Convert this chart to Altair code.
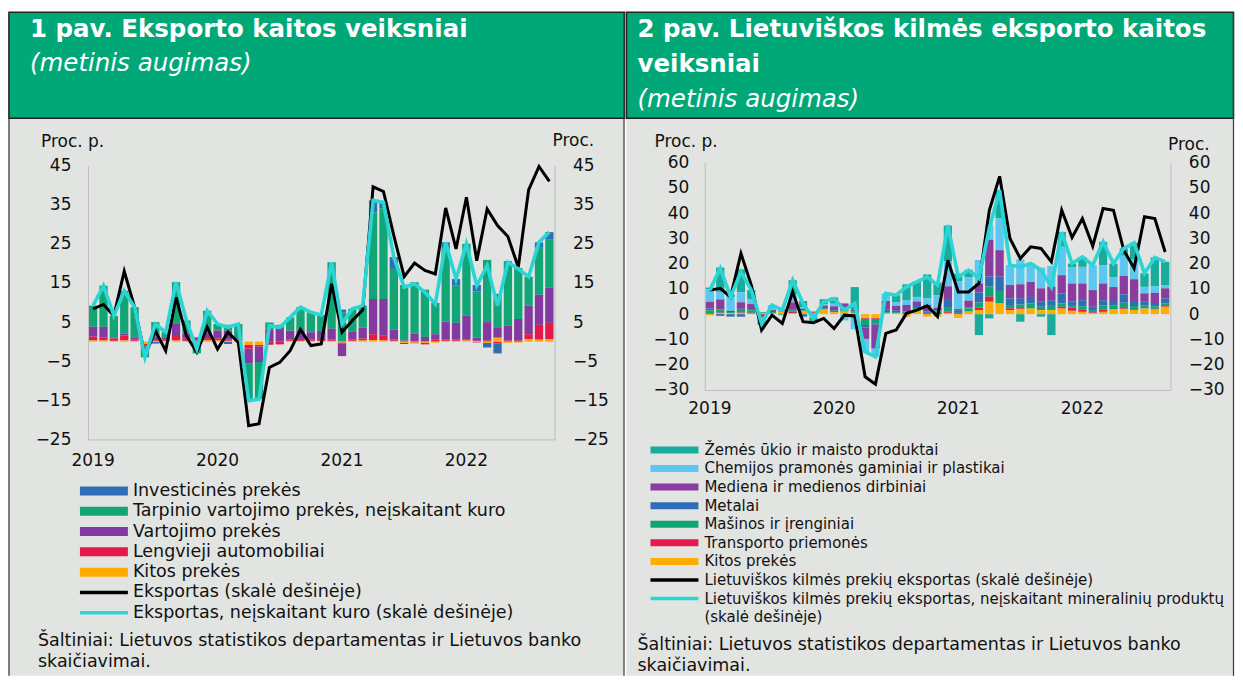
import altair as alt
import pandas as pd

# ---------------------------------------------------------------- categories
MONTHS = [f"{y}-{m:02d}" for y in (2019, 2020, 2021, 2022) for m in range(1, 13)][:45]
YEAR_TICKS = ["2019-01", "2020-01", "2021-01", "2022-01"]

FONT = "DejaVu Sans"
BG = "#E1E4E1"
HEADER_GREEN = "#00A878"
AXIS_GREY = "#BDBDBD"
BORDER = "#3A3A3A"
TEXT = "#111111"

SOURCE_LINES = ["Šaltiniai: Lietuvos statistikos departamentas ir Lietuvos banko",
                "skaičiavimai."]

# ---------------------------------------------------------------- panel 1
P1_TITLE_LINES = ["1 pav. Eksporto kaitos veiksniai"]
P1_SUBTITLE = "(metinis augimas)"
P1_UNIT_LEFT = "Proc. p."
P1_UNIT_RIGHT = "Proc."
P1_Y_TICKS = [-25, -15, -5, 5, 15, 25, 35, 45]
P1_BAR_NAMES = ["Investicinės prekės",
                "Tarpinio vartojimo prekės, neįskaitant kuro",
                "Vartojimo prekės",
                "Lengvieji automobiliai",
                "Kitos prekės"]
P1_BAR_COLORS = ["#2F6EB5", "#12A677", "#8339A0", "#E4184B", "#FFAB00"]
P1_LINE_NAMES = ["Eksportas (skalė dešinėje)",
                 "Eksportas, neįskaitant kuro (skalė dešinėje)"]
P1_LINE_COLORS = ["#000000", "#2CD5D5"]

P1_INVEST = [0, 0, 0, 0, 0, 0, -0.5, 0, 0, 0, 0, 0, 0, -0.6, 0, 0, 0, 0, 0, 0, 0, 0, 0, 0,
             0.8, 0, 0.4, 3.0, 1.5, 3.0, 0, 0, 0, 0, 1.5, 1.7, 0, 1.7, -1.2, -2.5, 0, 0, 0, 1.4, 1.8]
P1_TARP = [5.4, 10.5, 5.5, 10.9, 7.7, -2.7, 3.7, 1.3, 10.5, 3.4, -2.8, 5.5, 1.7, 1.5, 3.7,
           -9.6, -9.5, 1.9, 0.8, 3.4, 5.9, 5.1, 4.1, 17.0, 7.4, 5.9, 5.2, 22.2, 23.2, 15.5,
           14.2, 13.1, 12.1, 8.0, 18.8, 9.5, 18.4, 11.8, 15.9, 8.7, 16.5, 13.0, 7.4, 12.0, 12.4]
P1_VART = [2.5, 2.7, 0.3, 0.5, 0.5, -0.4, 0.6, 0.5, 3.0, 1.2, 0.8, 1.5, 2.0, 2.2, 0.3,
           -3.7, -4.0, 3.0, 3.5, 2.2, 2.2, 1.8, 2.0, 2.8, -3.2, 2.0, 2.8, 9.0, 9.4, 2.5,
           0.3, 2.1, 1.2, 1.4, 4.5, 4.3, 6.0, 0.8, 4.7, 2.5, 3.8, 5.5, 7.3, 7.7, 9.0]
P1_LENGV = [1.0, 0.8, 0.6, 1.3, 0.4, -0.3, 0.5, 0.4, 1.4, 0.6, 0.3, 0.6, 0.5, 0.4, 0.2,
            -1.0, -0.4, -0.8, -0.7, 0.4, 0.5, 0.4, 0.5, 0.3, -0.3, 0.3, 0.5, 1.5, 1.2, 0.4,
            -0.3, -0.2, -0.4, 0.5, 0.4, 0.3, 0.3, -0.2, 0.3, -0.5, 0.3, 0.3, 1.3, 3.8, 4.2]
P1_KITOS = [0.3, 0.3, 0.2, 0.3, 0.2, -0.6, 0.2, 0.2, 0.3, 0.2, -0.2, 0.3, 0.3, 0.2, 0.3,
            -0.8, -0.8, 0.0, 0.0, 0.2, 0.2, 0.2, 0.2, 0.2, -0.2, 0.2, 0.3, 0.4, 0.3, 0.2,
            -0.3, -0.2, -0.3, -0.3, 0.2, 0.2, 0.3, 0.2, -0.3, 1.0, -0.3, -0.2, 0.6, 0.5, 0.6]
P1_EXPORT = [8.4, 9.5, 6.6, 18.0, 8.8, -3.6, 2.8, -2.3, 11.3, 1.5, -2.7, 3.7, -1.9, 2.4, -0.2,
             -21.5, -21.0, -6.6, -5.3, -2.3, 3.1, -1.0, -0.6, 14.8, 2.4, 5.4, 8.1, 39.6, 38.4, 27.1,
             16.6, 20.1, 18.2, 17.3, 34.2, 23.7, 36.9, 20.7, 33.9, 29.7, 26.9, 19.0, 38.8, 44.8, 41.0]
P1_EXPORT_EXFUEL = [9.2, 14.3, 6.6, 13.0, 8.8, -4.0, 4.5, 2.4, 15.2, 5.4, -1.9, 7.9, 4.5, 3.7, 4.5,
                    -15.1, -14.7, 4.1, 3.6, 6.2, 8.8, 7.5, 6.8, 20.3, 4.5, 8.4, 9.2, 36.1, 35.6, 21.6,
                    13.9, 14.8, 12.6, 9.6, 25.4, 16.0, 25.0, 14.3, 19.4, 9.2, 20.3, 18.6, 16.6, 25.4, 28.0]

# ---------------------------------------------------------------- panel 2
P2_TITLE_LINES = ["2 pav. Lietuviškos kilmės eksporto kaitos", "veiksniai"]
P2_SUBTITLE = "(metinis augimas)"
P2_UNIT_LEFT = "Proc. p."
P2_UNIT_RIGHT = "Proc."
P2_Y_TICKS = [-30, -20, -10, 0, 10, 20, 30, 40, 50, 60]
P2_BAR_NAMES = ["Žemės ūkio ir maisto produktai",
                "Chemijos pramonės gaminiai ir plastikai",
                "Mediena ir medienos dirbiniai",
                "Metalai",
                "Mašinos ir įrenginiai",
                "Transporto priemonės",
                "Kitos prekės"]
P2_BAR_COLORS = ["#19AB9C", "#5CC8F2", "#8A3D9E", "#2F6DB5", "#0FA572", "#E31B4F", "#FFAD00"]
P2_LINE_NAMES = ["Lietuviškos kilmės prekių eksportas (skalė dešinėje)",
                 "Lietuviškos kilmės prekių eksportas, neįskaitant mineralinių produktų (skalė dešinėje)"]
P2_LINE_LEGEND_ROWS = ["Lietuviškos kilmės prekių eksportas (skalė dešinėje)",
                       "Lietuviškos kilmės prekių eksportas, neįskaitant mineralinių produktų",
                       "(skalė dešinėje)"]
P2_LINE_COLORS = ["#000000", "#2CD5D5"]

P2_ZEMES = [0.6, 9.6, 1.0, 9.0, 3.5, -2.0, 0, -0.4, 5.5, 2.5, -1.4, 2.0, 2.5, 0.3, 9.0,
            -0.3, 0, 0, 2.7, 6.2, 6.0, 9.5, 5.0, 14.0, 3.0, 3.0, -8.3, -1.7, 11.1, 0,
            -3.0, 0, -1.0, -8.3, 5.8, 1.4, 3.9, 0, 9.2, 5.3, 2.9, 6.4, 5.3, 11.4, 9.2]
P2_CHEM = [5.0, 3.0, 5.5, 4.0, 2.0, -1.0, 2.0, 0.5, 3.3, 0.5, -0.8, 0.5, 1.0, -2.5, -5.5,
           -5.0, -3.3, 3.0, 1.5, 2.0, 1.8, 2.6, 5.0, 10.0, 11.0, 9.2, 9.3, 6.0, 12.6, 7.9,
           9.9, 7.3, 8.2, 8.3, 11.3, 6.5, 6.6, 9.9, 7.3, 4.0, 8.0, 8.0, 2.6, 2.6, 1.3]
P2_MEDIENA = [2.7, 4.0, 0.5, 2.6, 2.0, -0.5, 0.8, 0.5, 2.6, 0.7, 0.5, 1.0, 1.5, 1.5, 0.5,
              -4.5, -9.5, 3.5, 2.0, 2.6, 1.8, 2.6, 1.0, 5.0, 0.5, 2.7, 3.5, 14.5, 10.5, 5.3,
              5.5, 5.9, 5.3, 5.3, 7.2, 7.2, 6.6, 6.6, 6.6, 5.9, 7.3, 8.6, 3.3, 4.0, 4.0]
P2_METALAI = [0.7, -0.7, -1.0, -1.0, 0.5, -0.5, 0, 0, 0.3, -1.0, -0.5, 0.3, 0.3, 1.0, 0.2,
              -1.0, -0.5, 1.0, 0.5, 0.5, 0.8, 0.5, 0.5, 3.5, 1.0, 0.3, 4.0, 4.0, 6.0, 2.6,
              2.5, 2.6, 2.0, 1.9, 4.0, 1.3, 2.4, 1.3, 2.0, 1.3, 3.3, 2.0, 1.4, 1.3, 2.0]
P2_MASINOS = [1.2, 1.2, 0.5, 1.5, 1.0, 0.3, 0.5, 0, 0.7, 0.3, 0, 0.3, 0.5, 0.5, 0.5,
              -2.5, -1.7, 0.5, 0.5, 0.5, 1.0, 0.5, 1.0, 1.5, 0.5, 1.3, 2.0, 4.0, 4.6, 1.3,
              1.5, 2.0, 1.3, 2.0, 1.3, 1.0, 1.3, 0.9, 1.7, 1.7, 2.2, 1.3, 1.3, 1.0, 1.0]
P2_TRANSP = [0.3, 0.3, 0, 0.3, 0.3, -0.3, 0, 0, 0.7, 0, 0, 0, 0, 0, -0.5,
             -0.3, -0.3, 0, 0, 0, 0, 0, 0, 0.5, 0, 0, 1.0, 2.0, 0, 0.7,
             0.3, 0, 0, 0, 0.7, 1.3, 0.9, 0.4, 0.9, 0, 0.3, 0.3, 0, 0.3, 0.3]
P2_KITOS = [-0.5, 0.3, 0.3, 0.3, 0.2, 0.5, 0.3, 1.0, 0.3, 1.2, 0.5, 1.8, 0.8, 1.0, 0.5,
            -1.5, -1.6, 0.2, 0.3, -1.0, 1.4, -1.0, -1.0, 0.5, -1.5, 1.0, 1.6, 4.9, 4.2, 1.6,
            2.0, 2.2, 1.6, 1.6, 2.2, 1.3, 0.9, 0.3, 0.9, 1.8, 2.0, 1.6, 2.2, 1.8, 2.9]
P2_EXPORT = [9.5, 10.2, 6.8, 24.0, 11.5, -6.3, -0.4, -3.7, 8.8, -3.0, -3.4, -1.7, -5.7, -0.4, -0.7,
             -24.8, -27.7, -7.6, -6.3, 0.3, 1.6, 3.3, -1.0, 21.3, 8.8, 8.8, 12.1, 41.0, 54.5, 29.9,
             22.0, 26.6, 26.0, 20.7, 41.1, 30.3, 37.8, 26.9, 41.8, 41.1, 25.3, 18.1, 38.5, 37.8, 24.6]
P2_EXPORT_EXMIN = [9.5, 18.1, 6.8, 16.7, 9.5, -3.7, 3.6, 1.6, 13.4, 4.2, -1.7, 4.9, 6.2, 1.6, 4.2,
                   -14.9, -16.9, 8.2, 7.5, 10.8, 12.8, 14.7, 11.5, 35.2, 14.7, 17.4, 14.1, 33.9, 49.0, 19.4,
                   18.7, 20.0, 17.4, 10.8, 32.5, 20.0, 22.6, 19.4, 28.6, 20.0, 26.0, 28.2, 16.1, 22.4, 20.7]

ONE = pd.DataFrame({"k": [0]})
H = 668


def text_mark(s, x, y, size, weight="normal", style="normal", color=TEXT, align="left"):
    return alt.Chart(ONE).mark_text(
        text=s, align=align, baseline="middle", fontSize=size, font=FONT,
        fontWeight=weight, fontStyle=style, color=color,
    ).encode(x=alt.value(x), y=alt.value(y))


def vline(x):
    return alt.Chart(ONE).mark_rule(color=BORDER, strokeWidth=1.2).encode(
        x=alt.value(x), y=alt.value(4), y2=alt.value(H))


def make_panel(c):
    W = c["W"]
    nb = len(c["bar_names"])
    rows = []
    for k, (name, vals) in enumerate(zip(c["bar_names"], c["bar_values"])):
        for m, v in zip(MONTHS, vals):
            rows.append({"m": m, "series": name, "value": v, "stackpos": nb - 1 - k})
    bars_df = pd.DataFrame(rows)
    rows = []
    for name, vals in zip(c["line_names"], c["line_values"]):
        for m, v in zip(MONTHS, vals):
            rows.append({"m": m, "series": name, "value": v})
    lines_df = pd.DataFrame(rows)

    x0, x1 = c["x_range"]
    ytop, ybot = c["y_range"]
    xscale = alt.Scale(domain=MONTHS, range=[x0, x1], paddingInner=0.2, paddingOuter=0.1)
    yscale = alt.Scale(domain=c["y_domain"], range=[ybot, ytop], nice=False, zero=False)
    xaxis = alt.Axis(orient="bottom", offset=-(H - ybot), values=YEAR_TICKS,
                     labelExpr="substring(datum.value, 0, 4)", title=None, ticks=False,
                     tickSize=0, labelPadding=c["xlab_pad"], labelAngle=0, domainColor=AXIS_GREY,
                     labelFontSize=17, labelFont=FONT, labelColor=TEXT, grid=False)

    bars = alt.Chart(bars_df).mark_bar().encode(
        x=alt.X("m:O", scale=xscale, axis=xaxis),
        y=alt.Y("value:Q", stack="zero", scale=yscale,
                axis=alt.Axis(orient="left", offset=-x0, values=c["y_ticks"], title=None,
                              ticks=False, tickSize=0, grid=False, labelPadding=c["ylab_pad_l"],
                              domainColor=AXIS_GREY, labelFontSize=17, labelFont=FONT,
                              labelColor=TEXT)),
        fill=alt.Fill("series:N", scale=alt.Scale(domain=c["bar_names"], range=c["bar_colors"]),
                      legend=None),
        order=alt.Order("stackpos:Q", sort="ascending"),
    )
    lines = alt.Chart(lines_df).mark_line(strokeJoin="miter").encode(
        x=alt.X("m:O", scale=xscale, axis=xaxis),
        y=alt.Y("value:Q", scale=yscale,
                axis=alt.Axis(orient="right", offset=-(W - x1), values=c["y_ticks"], title=None,
                              ticks=False, tickSize=0, grid=False, labelPadding=c["ylab_pad_r"],
                              domainColor=AXIS_GREY, labelFontSize=17, labelFont=FONT,
                              labelColor=TEXT)),
        stroke=alt.Stroke("series:N", scale=alt.Scale(domain=c["line_names"], range=c["line_colors"]),
                          legend=None),
        strokeWidth=alt.StrokeWidth("series:N", scale=alt.Scale(domain=c["line_names"], range=[3, 3.6]),
                                    legend=None),
    )

    # header
    strip = alt.Chart(ONE).mark_rect(color="white").encode(
        x=alt.value(0), x2=alt.value(W), y=alt.value(0), y2=alt.value(4))
    header = alt.Chart(ONE).mark_rect(fill=HEADER_GREEN, stroke="#222222", strokeWidth=1.5).encode(
        x=alt.value(c["hdr_x"][0]), x2=alt.value(c["hdr_x"][1]), y=alt.value(4), y2=alt.value(110))
    titles = [text_mark(t, c["title_x"], y, 24.5, weight="bold", color="white")
              for t, y in zip(c["title_lines"], c["title_ys"])]
    subtitle = text_mark(c["subtitle"], c["title_x"], c["subtitle_y"], 24.5, style="italic",
                         color="white")
    unit_l = text_mark(c["unit_left"], c["unit_left_pos"][0], c["unit_left_pos"][1], 17)
    unit_r = text_mark(c["unit_right"], c["unit_right_pos"][0], c["unit_right_pos"][1], 17)
    borders = [vline(x) for x in c["border_x"]]

    # legend
    text_rows = c["bar_names"] + c["line_legend_rows"]
    nrows = len(text_rows)
    lscale = alt.Scale(domain=[0, nrows - 1], range=list(c["legend_y"]))
    sx0, sx1 = c["swatch_x"]
    leg_bar_df = pd.DataFrame({"label": c["bar_names"], "row": list(range(nb))})
    leg_line_df = pd.DataFrame({"label": c["line_names"],
                                "row": list(range(nb, nb + len(c["line_names"])))})
    leg_text_df = pd.DataFrame({"label": text_rows, "row": list(range(nrows))})
    sw_bars = alt.Chart(leg_bar_df).mark_rule(strokeWidth=c["swatch_h"], strokeCap="butt").encode(
        x=alt.value(sx0), x2=alt.value(sx1),
        y=alt.Y("row:Q", scale=lscale, axis=None),
        color=alt.Color("label:N", scale=alt.Scale(domain=c["bar_names"], range=c["bar_colors"]),
                        legend=None),
    )
    sw_lines = alt.Chart(leg_line_df).mark_rule(strokeWidth=3.5, strokeCap="butt").encode(
        x=alt.value(sx0), x2=alt.value(sx1),
        y=alt.Y("row:Q", scale=lscale, axis=None),
        stroke=alt.Stroke("label:N", scale=alt.Scale(domain=c["line_names"], range=c["line_colors"]),
                          legend=None),
    )
    leg_text = alt.Chart(leg_text_df).mark_text(
        align="left", baseline="middle", fontSize=c["legend_font"], font=FONT, color=TEXT,
    ).encode(x=alt.value(c["legend_text_x"]), y=alt.Y("row:Q", scale=lscale, axis=None),
             text="label:N")

    src_df = pd.DataFrame({"t": SOURCE_LINES, "r": [0, 1]})
    source = alt.Chart(src_df).mark_text(
        align="left", baseline="middle", fontSize=17.5, font=FONT, color=TEXT,
    ).encode(x=alt.value(c["source_x"]),
             y=alt.Y("r:Q", scale=alt.Scale(domain=[0, 1], range=list(c["source_y"])), axis=None),
             text="t:N")

    return alt.layer(strip, header, *borders, *titles, subtitle, unit_l, unit_r, bars, lines,
                     sw_bars, sw_lines, leg_text, source).resolve_scale(
        y="independent").properties(width=W, height=H)


left = make_panel(dict(
    W=617, bar_names=P1_BAR_NAMES, bar_colors=P1_BAR_COLORS,
    bar_values=[P1_INVEST, P1_TARP, P1_VART, P1_LENGV, P1_KITOS],
    line_names=P1_LINE_NAMES, line_colors=P1_LINE_COLORS,
    line_values=[P1_EXPORT, P1_EXPORT_EXFUEL], line_legend_rows=P1_LINE_NAMES,
    x_range=(80, 547), y_range=(157.5, 431.5), y_domain=[-25, 45], y_ticks=P1_Y_TICKS,
    xlab_pad=13, ylab_pad_l=17, ylab_pad_r=18,
    hdr_x=(1, 617), title_x=22, title_lines=P1_TITLE_LINES, title_ys=[22],
    subtitle=P1_SUBTITLE, subtitle_y=56,
    unit_left=P1_UNIT_LEFT, unit_left_pos=(33, 134), unit_right=P1_UNIT_RIGHT,
    unit_right_pos=(545, 133), border_x=[1, 616.5],
    legend_y=(483, 605), swatch_x=(72, 120), swatch_h=9, legend_text_x=125, legend_font=17.5,
    source_x=30, source_y=(633, 654),
))

right = make_panel(dict(
    W=608, bar_names=P2_BAR_NAMES, bar_colors=P2_BAR_COLORS,
    bar_values=[P2_ZEMES, P2_CHEM, P2_MEDIENA, P2_METALAI, P2_MASINOS, P2_TRANSP, P2_KITOS],
    line_names=P2_LINE_NAMES, line_colors=P2_LINE_COLORS,
    line_values=[P2_EXPORT, P2_EXPORT_EXMIN], line_legend_rows=P2_LINE_LEGEND_ROWS,
    x_range=(78.3, 544.3), y_range=(154.3, 382), y_domain=[-30, 60], y_ticks=P2_Y_TICKS,
    xlab_pad=11, ylab_pad_l=16, ylab_pad_r=18,
    hdr_x=(0, 607.5), title_x=11, title_lines=P2_TITLE_LINES, title_ys=[22, 57],
    subtitle=P2_SUBTITLE, subtitle_y=92,
    unit_left=P2_UNIT_LEFT, unit_left_pos=(28, 134), unit_right=P2_UNIT_RIGHT,
    unit_right_pos=(542, 137), border_x=[607.5],
    legend_y=(442, 609.4), swatch_x=(24, 72), swatch_h=7, legend_text_x=78, legend_font=15,
    source_x=11, source_y=(637, 658),
))

chart = alt.hconcat(left, right, spacing=0).resolve_scale(
    fill="independent", color="independent", stroke="independent", strokeWidth="independent"
).properties(
    padding=0, background="white"
).configure_view(fill=BG, strokeWidth=0)

chart.save("out.html", embed_options={"renderer": "svg", "actions": False})
